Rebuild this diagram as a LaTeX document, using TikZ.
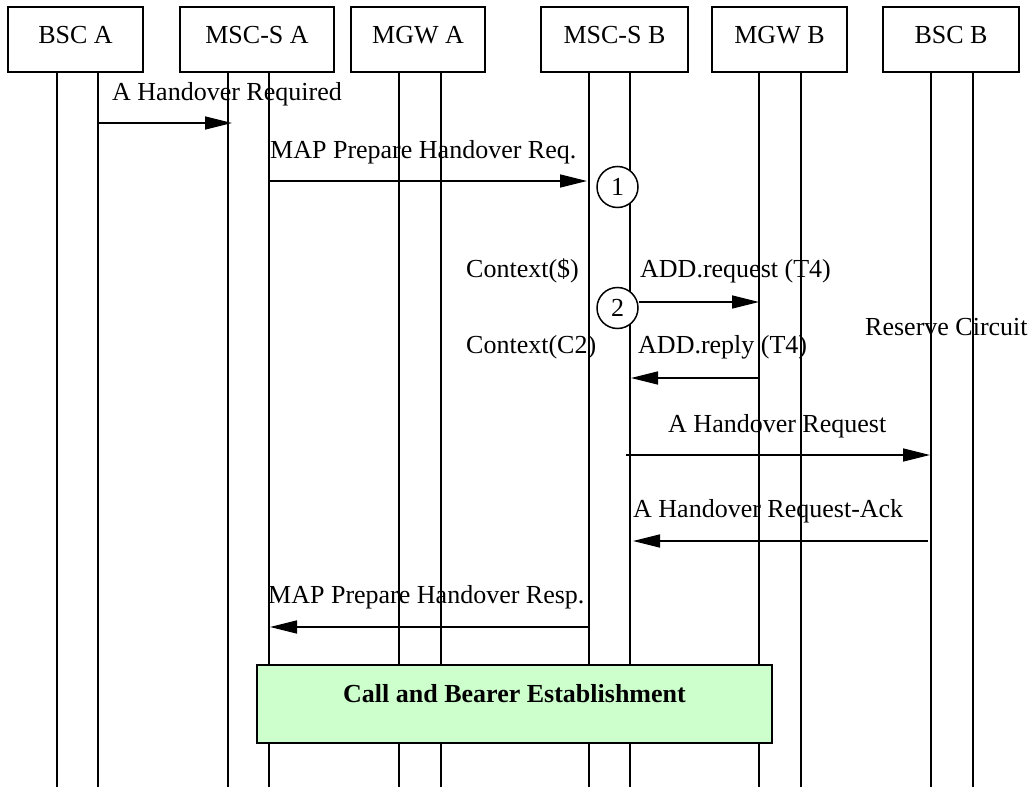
\documentclass[tikz,border=0pt]{standalone}
\usepackage{fontspec}
\setmainfont{Liberation Serif}
\usetikzlibrary{arrows.meta}
\begin{document}
\begin{tikzpicture}[x=1pt,y=-1pt,
  every node/.style={font=\fontsize{26}{31}\selectfont, inner sep=0pt},
  entity/.style={draw, line width=1.5pt},
  life/.style={line width=1.5pt},
  msg/.style={line width=1.5pt, -{Triangle[length=27pt,width=13pt]}},
  lbl/.style={anchor=base west},
  num/.style={draw, circle, fill=white, line width=1.5pt, minimum size=41pt},
  phase/.style={draw, line width=1.5pt}
]
\useasboundingbox (0,0) rectangle (1034,787);
\definecolor{phasegreen}{HTML}{CCFFCC}
% entity boxes
\draw[entity] (8,7) rectangle (143,72);
\node[anchor=base] (bsca) at (75.5,43) {BSC A};
\draw[entity] (180,7) rectangle (334,72);
\node[anchor=base] (mscsa) at (257,43) {MSC-S A};
\draw[entity] (351,7) rectangle (485,72);
\node[anchor=base] (mgwa) at (418,43) {MGW A};
\draw[entity] (541,7) rectangle (688,72);
\node[anchor=base] (mscsb) at (614.5,43) {MSC-S B};
\draw[entity] (712,7) rectangle (847,72);
\node[anchor=base] (mgwb) at (779.5,43) {MGW B};
\draw[entity] (883,7) rectangle (1019,72);
\node[anchor=base] (bscb) at (951,43) {BSC B};
% lifelines
\foreach \x in {57,98,228,269,399,441,589,630,759,801,931,973}
  \draw[life] (\x,72) -- (\x,787);
% coordinates of message ends
\coordinate (m1s) at (98,123);   \coordinate (m1e) at (232,123);
\coordinate (m2s) at (269,181);  \coordinate (m2e) at (587,181);
\coordinate (m3e) at (759,302);
\coordinate (m4s) at (759,378);  \coordinate (m4e) at (631,378);
\coordinate (m5s) at (626,455);  \coordinate (m5e) at (930,455);
\coordinate (m6s) at (928,541);  \coordinate (m6e) at (633,541);
\coordinate (m7s) at (589,627);  \coordinate (m7e) at (270,627);
% circles
\node[num] (c1) at (617.5,187) {1};
\node[num] (c2) at (617.5,308) {2};
% messages
\draw[msg] (m1s) -- (m1e);
\draw[msg] (m2s) -- (m2e);
\draw[msg] (c2.east |- m3e) -- (m3e);
\draw[msg] (m4s) -- (m4e);
\draw[msg] (m5s) -- (m5e);
\draw[msg] (m6s) -- (m6e);
\draw[msg] (m7s) -- (m7e);
% labels
\node[lbl] (l1) at (112,100) {A Handover Required};
\node[lbl] (l2) at (270,158) {MAP Prepare Handover Req.};
\node[lbl] (l3a) at (466,277) {Context(\$)};
\node[lbl] (l3) at (640,277) {ADD.request (T4)};
\node[lbl] (l4a) at (466,353) {Context(C2)};
\node[lbl] (l4) at (638,353) {ADD.reply (T4)};
\node[lbl] (l4b) at (865,335) {Reserve Circuit};
\node[lbl] (l5) at (668,432) {A Handover Request};
\node[lbl] (l6) at (633,517) {A Handover Request-Ack};
\node[lbl] (l7) at (268,603) {MAP Prepare Handover Resp.};
% phase box
\draw[phase, fill=phasegreen] (257,665) rectangle (772,743);
\node[anchor=base, font=\fontsize{26}{31}\selectfont\bfseries] (phase) at (514.5,702) {Call and Bearer Establishment};
\end{tikzpicture}
\end{document}
